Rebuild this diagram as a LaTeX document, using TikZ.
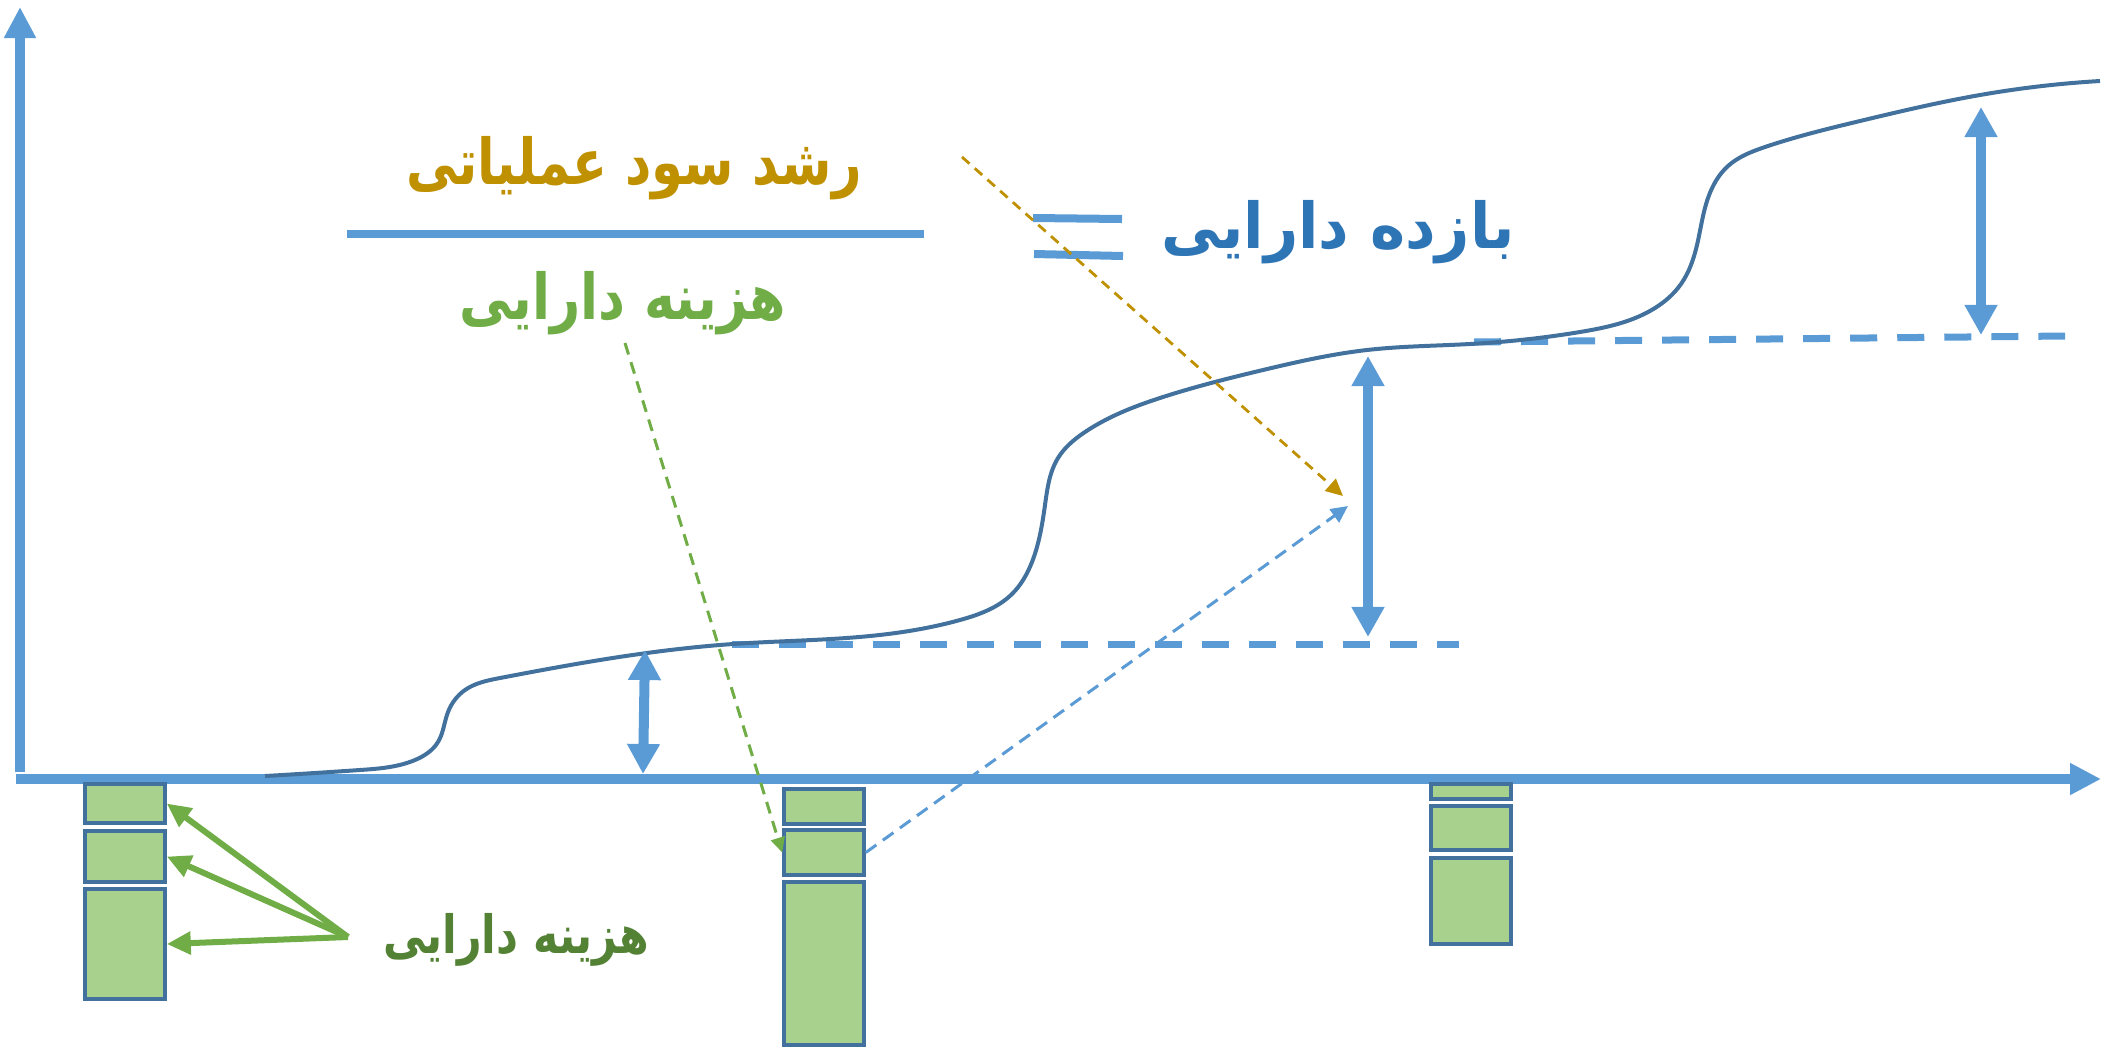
\documentclass[tikz,border=0pt]{standalone}
\usepackage{fontspec}
\usetikzlibrary{arrows.meta,positioning,hobby}
\TeXXeTstate=1
\newfontfamily\arabicfont[Script=Arabic]{DejaVu Sans}
\definecolor{axisblue}{HTML}{5B9BD5}
\definecolor{curveblue}{HTML}{41719C}
\definecolor{textblue}{HTML}{2E75B6}
\definecolor{goldtext}{HTML}{BF9000}
\definecolor{lightgreen}{HTML}{70AD47}
\definecolor{darkgreen}{HTML}{548235}
\definecolor{boxgreen}{HTML}{A9D18E}

\begin{document}
\begin{tikzpicture}[x=0.01cm,y=-0.01cm,
    axis/.style={axisblue,line width=0.1cm,-{Triangle[length=0.31cm,width=0.3cm]}},
    costbox/.style={draw=curveblue,line width=0.035cm,fill=boxgreen,minimum width=0.8cm,inner sep=0pt},
    levelline/.style={axisblue,line width=0.07cm,dash pattern=on 0.27cm off 0.2cm},
    bigarrow/.style={axisblue,line width=0.1cm,{Triangle[length=0.3cm,width=0.31cm]}-{Triangle[length=0.3cm,width=0.31cm]}},
    fanarrow/.style={lightgreen,line width=0.06cm,-{Triangle[length=0.24cm,width=0.22cm]}},
    faratxt/.style={font=\arabicfont\bfseries\fontsize{18}{22}\selectfont,inner sep=0pt}]
                                    \useasboundingbox (0,0) rectangle (2109,1048);
% axes
                                    \draw[axis] (20,772) -- (20,7);
                                    \draw[axis] (16,779) -- (2101,779);

% asset cost boxes
                                    \node[costbox,minimum height=0.39cm] (l1) at (125,803.5) {};
                                    \node[costbox,minimum height=0.51cm] (l2) at (125,856.5) {};
                                    \node[costbox,minimum height=1.10cm] (l3) at (125,944) {};
                                    \node[costbox,minimum height=0.35cm] (m1) at (824,806.5) {};
                                    \node[costbox,minimum height=0.45cm] (m2) at (824,852.5) {};
                                    \node[costbox,minimum height=1.63cm] (m3) at (824,963.5) {};
                                    \node[costbox,minimum height=0.15cm] (r1) at (1471,791.5) {};
                                    \node[costbox,minimum height=0.44cm] (r2) at (1471,828) {};
                                    \node[costbox,minimum height=0.86cm] (r3) at (1471,901) {};

% levels
                                    \draw[levelline] (732,644) -- (1459,644);
                                    \draw[levelline] (1474,342) -- (2065,336);

% growth curve
                                    \draw[curveblue,line width=0.04cm,use Hobby shortcut]
                                        (265,776) .. (360,770) .. (415,760) .. (438,742) .. (448,712) .. (465,690) .. (500,678)
                                        .. (600,660) .. (733,644) .. (870,636) .. (960,620) .. (1012,594) .. (1032,562) .. (1045,505)
                                        .. (1058,458) .. (1085,432) .. (1163,397) .. (1263,370) .. (1367,350) .. (1470,344)
                                        .. (1580,332) .. (1655,308) .. (1681,284) .. (1697,245) .. (1708,198) .. (1728,166)
                                        .. (1765,147) .. (1860,121) .. (1980,95) .. (2100,81);

% returns
                                    \coordinate (a1top) at (645,650); \coordinate (a1bot) at (643,774);
                                    \coordinate (a2top) at (1368,356); \coordinate (a2bot) at (1368,637);
                                    \coordinate (a3top) at (1981,107); \coordinate (a3bot) at (1981,335);
                                    \draw[bigarrow] (a1top) -- (a1bot);
                                    \draw[bigarrow] (a2top) -- (a2bot);
                                    \draw[bigarrow] (a3top) -- (a3bot);

% ratio
                                    \node[faratxt,text=goldtext] (growth) at (634,168) {\scalebox{0.81}[1]{\beginR رشد سود عملیاتی\endR}};
                                    \draw[axisblue,line width=0.085cm] (347,234) -- (924,234);
                                    \node[faratxt,text=lightgreen] (cost) at (623,303) {\scalebox{0.83}[1]{\beginR هزینه دارایی\endR}};
                                    \draw[axisblue,line width=0.08cm] (1033,218) -- (1122,219);
                                    \draw[axisblue,line width=0.08cm] (1034,254) -- (1123,256);
                                    \node[faratxt,text=textblue] (ret) at (1338,232) {\scalebox{0.94}[1]{\beginR بازده دارایی\endR}};

% pointers
                                    \coordinate (gstart) at (962,157); \coordinate (gend) at (1343,496);
                                    \coordinate (cstart) at (625,343); \coordinate (bend) at (1348,506);
                                    \draw[goldtext,line width=0.028cm,dash pattern=on 0.1cm off 0.07cm,-{Triangle[length=0.17cm,width=0.16cm]}] (gstart) -- (gend);
                                    \draw[axisblue,line width=0.03cm,dash pattern=on 0.13cm off 0.08cm,-{Triangle[length=0.17cm,width=0.16cm]}] (m2.east) -- (bend);
                                    \draw[lightgreen,line width=0.03cm,dash pattern=on 0.12cm off 0.08cm,-{Triangle[length=0.15cm,width=0.14cm]}] (cstart) -- (m2.west);

% cost label
                                    \node[faratxt,text=darkgreen,font=\arabicfont\bfseries\fontsize{15}{19}\selectfont] (costlbl) at (516,940) {\scalebox{0.81}[1]{\beginR هزینه دارایی\endR}};
                                    \coordinate (fan) at (348,937);
                                    \draw[fanarrow] (fan) -- (l1.east);
                                    \draw[fanarrow] (fan) -- (l2.east);
                                    \draw[fanarrow] (fan) -- (l3.east);

                                \end{tikzpicture}
\end{document}
